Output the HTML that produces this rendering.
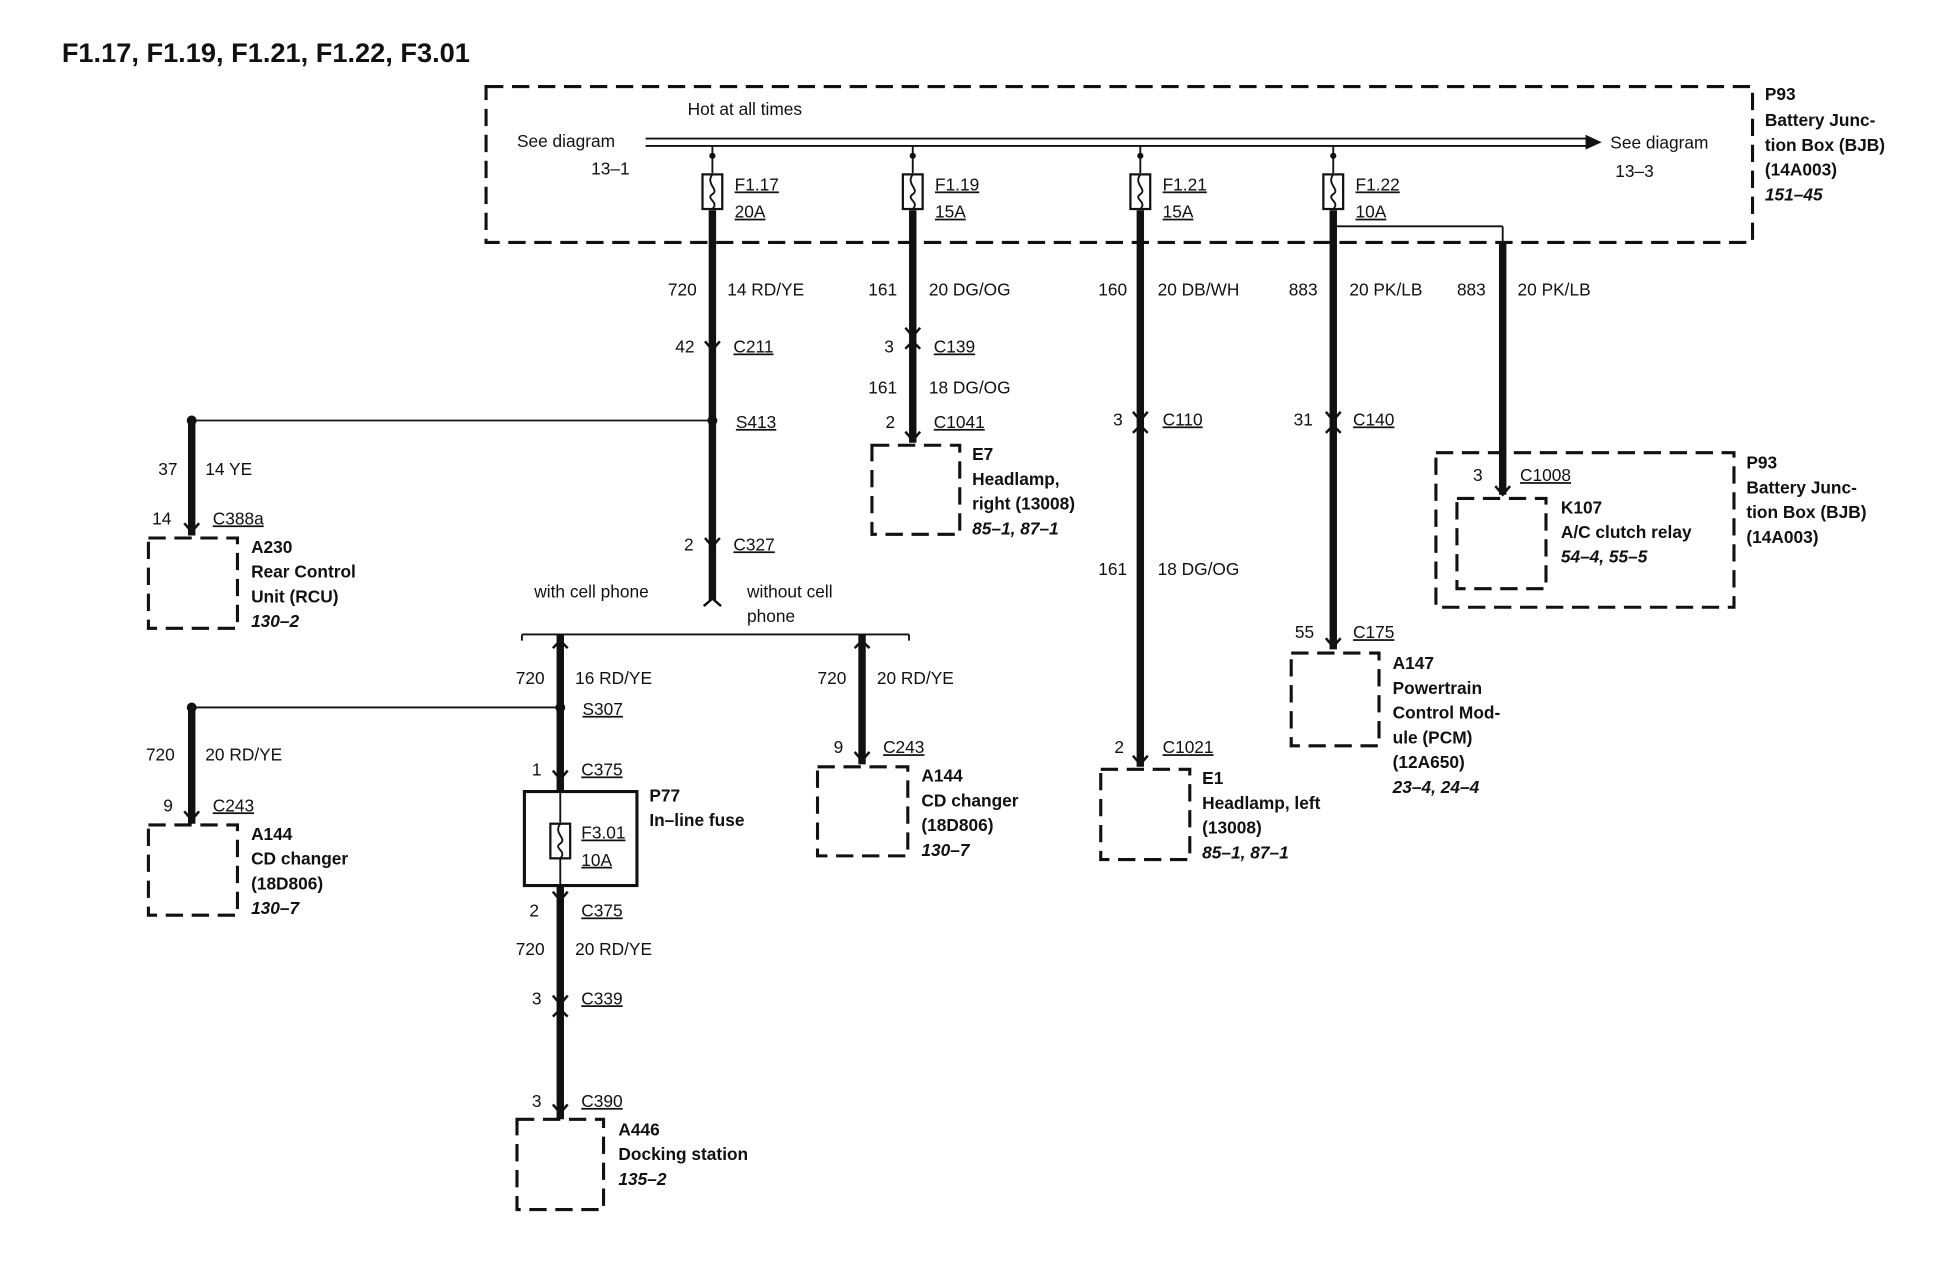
<!DOCTYPE html>
<html><head><meta charset="utf-8"><style>
html,body{margin:0;padding:0;background:#fff;}
svg{display:block;}
text{font-family:"Liberation Sans",Arial,sans-serif;font-size:14px;fill:#111;}
.b{font-weight:bold;}
.i{font-style:italic;font-weight:bold;}
.u{text-decoration:underline;}
.d{fill:none;stroke:#111;stroke-width:2.5;stroke-dasharray:14,7;}
.w{stroke:#111;stroke-width:6;fill:none;}
.t{stroke:#111;stroke-width:1.5;fill:none;}
</style></head><body>
<svg width="1938" height="1264" viewBox="0 0 1566 1022" preserveAspectRatio="xMinYMin meet" xmlns="http://www.w3.org/2000/svg">
<defs>
<g id="cn"><path d="M-6,-7 L0,0 L6,-7" stroke="#111" stroke-width="2" fill="none"/></g>
<g id="fu"><rect x="-8" y="-14" width="16" height="28" fill="#fff" stroke="#111" stroke-width="1.8"/><path d="M0,-14 C-6,-6 6,-2 0,2 C-6,6 6,8 0,14" stroke="#111" stroke-width="1.5" fill="none"/></g>
</defs>
<text x="50" y="50" class="b" style="font-size:22px">F1.17, F1.19, F1.21, F1.22, F3.01</text>

<rect x="393" y="70" width="1024" height="126" class="d"/>
<line x1="522" y1="112" x2="1285" y2="112" class="t"/>
<line x1="522" y1="118" x2="1285" y2="118" class="t"/>
<path d="M1282,109 L1295,115 L1282,121 Z" fill="#111"/>
<text x="556" y="93">Hot at all times</text>
<text x="418" y="119">See diagram</text><text x="478" y="141">13–1</text>
<text x="1302" y="120">See diagram</text><text x="1306" y="143">13–3</text>
<text x="1427" y="81" class="b">P93</text>
<text x="1427" y="102" class="b">Battery Junc-</text>
<text x="1427" y="122" class="b">tion Box (BJB)</text>
<text x="1427" y="142" class="b">(14A003)</text>
<text x="1427" y="162" class="i">151–45</text>

<g>
<line x1="576" y1="118" x2="576" y2="140" class="t"/><circle cx="576" cy="126" r="2.5" fill="#111"/><use href="#fu" x="576" y="155"/>
<text x="594" y="154" class="u">F1.17</text><text x="594" y="176" class="u">20A</text>
<line x1="738" y1="118" x2="738" y2="140" class="t"/><circle cx="738" cy="126" r="2.5" fill="#111"/><use href="#fu" x="738" y="155"/>
<text x="756" y="154" class="u">F1.19</text><text x="756" y="176" class="u">15A</text>
<line x1="922" y1="118" x2="922" y2="140" class="t"/><circle cx="922" cy="126" r="2.5" fill="#111"/><use href="#fu" x="922" y="155"/>
<text x="940" y="154" class="u">F1.21</text><text x="940" y="176" class="u">15A</text>
<line x1="1078" y1="118" x2="1078" y2="140" class="t"/><circle cx="1078" cy="126" r="2.5" fill="#111"/><use href="#fu" x="1078" y="155"/>
<text x="1096" y="154" class="u">F1.22</text><text x="1096" y="176" class="u">10A</text>
</g>

<line x1="576" y1="170" x2="576" y2="485" class="w"/>
<text x="540" y="239">720</text><text x="588" y="239">14 RD/YE</text>
<use href="#cn" x="576" y="283"/><text x="546" y="285">42</text><text x="593" y="285" class="u">C211</text>
<circle cx="576" cy="340" r="4" fill="#111"/><text x="595" y="346" class="u">S413</text>
<line x1="155" y1="340" x2="576" y2="340" class="t"/>
<use href="#cn" x="576" y="442"/><text x="553" y="445">2</text><text x="593" y="445" class="u">C327</text>
<path d="M569,490 L576,484 L583,490" stroke="#111" stroke-width="2" fill="none"/>
<circle cx="155" cy="340" r="4" fill="#111"/>
<line x1="155" y1="340" x2="155" y2="433" class="w"/>
<text x="128" y="384">37</text><text x="166" y="384">14 YE</text>
<use href="#cn" x="155" y="430"/><text x="123" y="424">14</text><text x="172" y="424" class="u">C388a</text>
<rect x="120" y="435" width="72" height="73" class="d"/>
<text x="203" y="447" class="b">A230</text><text x="203" y="467" class="b">Rear Control</text><text x="203" y="487" class="b">Unit (RCU)</text><text x="203" y="507" class="i">130–2</text>

<text x="432" y="483">with cell phone</text>
<text x="604" y="483">without cell</text><text x="604" y="503">phone</text>
<line x1="422" y1="513" x2="735" y2="513" class="t"/>
<path d="M422,513 L422,518 M735,513 L735,518" class="t"/>

<line x1="453" y1="513" x2="453" y2="640" class="w"/>
<path d="M447,524 L453,518 L459,524" stroke="#111" stroke-width="2" fill="none"/>
<text x="417" y="553">720</text><text x="465" y="553">16 RD/YE</text>
<circle cx="453" cy="572" r="4" fill="#111"/><text x="471" y="578" class="u">S307</text>
<line x1="155" y1="572" x2="453" y2="572" class="t"/>
<use href="#cn" x="453" y="630"/><text x="430" y="627">1</text><text x="470" y="627" class="u">C375</text>
<rect x="424" y="640" width="91" height="76" fill="none" stroke="#111" stroke-width="2.5"/>
<line x1="453" y1="640" x2="453" y2="665" class="t"/><use href="#fu" x="453" y="680"/><line x1="453" y1="694" x2="453" y2="716" class="t"/>
<text x="470" y="678" class="u">F3.01</text><text x="470" y="700" class="u">10A</text>
<text x="525" y="648" class="b">P77</text><text x="525" y="668" class="b">In–line fuse</text>
<line x1="453" y1="716" x2="453" y2="905" class="w"/>
<use href="#cn" x="453" y="728"/><text x="428" y="741">2</text><text x="470" y="741" class="u">C375</text>
<text x="417" y="772">720</text><text x="465" y="772">20 RD/YE</text>
<use href="#cn" x="453" y="812"/><text x="430" y="812">3</text><text x="470" y="812" class="u">C339</text>
<path d="M447,822 L453,816 L459,822" stroke="#111" stroke-width="2" fill="none"/>
<use href="#cn" x="453" y="900"/><text x="430" y="895">3</text><text x="470" y="895" class="u">C390</text>
<rect x="418" y="905" width="70" height="73" class="d"/>
<text x="500" y="918" class="b">A446</text><text x="500" y="938" class="b">Docking station</text><text x="500" y="958" class="i">135–2</text>

<circle cx="155" cy="572" r="4" fill="#111"/>
<line x1="155" y1="572" x2="155" y2="666" class="w"/>
<text x="118" y="615">720</text><text x="166" y="615">20 RD/YE</text>
<use href="#cn" x="155" y="663"/><text x="132" y="656">9</text><text x="172" y="656" class="u">C243</text>
<rect x="120" y="667" width="72" height="73" class="d"/>
<text x="203" y="679" class="b">A144</text><text x="203" y="699" class="b">CD changer</text><text x="203" y="719" class="b">(18D806)</text><text x="203" y="739" class="i">130–7</text>

<line x1="697" y1="513" x2="697" y2="618" class="w"/>
<path d="M691,524 L697,518 L703,524" stroke="#111" stroke-width="2" fill="none"/>
<text x="661" y="553">720</text><text x="709" y="553">20 RD/YE</text>
<use href="#cn" x="697" y="615"/><text x="674" y="609">9</text><text x="714" y="609" class="u">C243</text>
<rect x="661" y="620" width="73" height="72" class="d"/>
<text x="745" y="632" class="b">A144</text><text x="745" y="652" class="b">CD changer</text><text x="745" y="672" class="b">(18D806)</text><text x="745" y="692" class="i">130–7</text>

<line x1="738" y1="170" x2="738" y2="358" class="w"/>
<text x="702" y="239">161</text><text x="751" y="239">20 DG/OG</text>
<use href="#cn" x="738" y="272"/><text x="715" y="285">3</text><text x="755" y="285" class="u">C139</text>
<path d="M732,282 L738,276 L744,282" stroke="#111" stroke-width="2" fill="none"/>
<text x="702" y="318">161</text><text x="751" y="318">18 DG/OG</text>
<use href="#cn" x="738" y="356"/><text x="716" y="346">2</text><text x="755" y="346" class="u">C1041</text>
<rect x="705" y="360" width="71" height="72" class="d"/>
<text x="786" y="372" class="b">E7</text><text x="786" y="392" class="b">Headlamp,</text><text x="786" y="412" class="b">right (13008)</text><text x="786" y="432" class="i">85–1, 87–1</text>

<line x1="922" y1="170" x2="922" y2="620" class="w"/>
<text x="888" y="239">160</text><text x="936" y="239">20 DB/WH</text>
<use href="#cn" x="922" y="340"/><text x="900" y="344">3</text><text x="940" y="344" class="u">C110</text>
<path d="M916,350 L922,344 L928,350" stroke="#111" stroke-width="2" fill="none"/>
<text x="888" y="465">161</text><text x="936" y="465">18 DG/OG</text>
<use href="#cn" x="922" y="618"/><text x="901" y="609">2</text><text x="940" y="609" class="u">C1021</text>
<rect x="890" y="622" width="72" height="73" class="d"/>
<text x="972" y="634" class="b">E1</text><text x="972" y="654" class="b">Headlamp, left</text><text x="972" y="674" class="b">(13008)</text><text x="972" y="694" class="i">85–1, 87–1</text>

<line x1="1078" y1="170" x2="1078" y2="525" class="w"/>
<text x="1042" y="239">883</text><text x="1091" y="239">20 PK/LB</text>
<use href="#cn" x="1078" y="340"/><text x="1046" y="344">31</text><text x="1094" y="344" class="u">C140</text>
<path d="M1072,350 L1078,344 L1084,350" stroke="#111" stroke-width="2" fill="none"/>
<use href="#cn" x="1078" y="523"/><text x="1047" y="516">55</text><text x="1094" y="516" class="u">C175</text>
<rect x="1044" y="528" width="71" height="75" class="d"/>
<text x="1126" y="541" class="b">A147</text><text x="1126" y="561" class="b">Powertrain</text><text x="1126" y="581" class="b">Control Mod-</text><text x="1126" y="601" class="b">ule (PCM)</text><text x="1126" y="621" class="b">(12A650)</text><text x="1126" y="641" class="i">23–4, 24–4</text>

<circle cx="1078" cy="183" r="2.5" fill="#111"/>
<line x1="1078" y1="183" x2="1215" y2="183" class="t"/>
<line x1="1215" y1="183" x2="1215" y2="196" class="t"/>
<line x1="1215" y1="196" x2="1215" y2="400" class="w"/>
<text x="1178" y="239">883</text><text x="1227" y="239">20 PK/LB</text>
<rect x="1161" y="366" width="241" height="125" class="d"/>
<use href="#cn" x="1215" y="400"/><text x="1191" y="389">3</text><text x="1229" y="389" class="u">C1008</text>
<rect x="1178" y="403" width="72" height="73" class="d"/>
<text x="1262" y="415" class="b">K107</text><text x="1262" y="435" class="b">A/C clutch relay</text><text x="1262" y="455" class="i">54–4, 55–5</text>
<text x="1412" y="379" class="b">P93</text><text x="1412" y="399" class="b">Battery Junc-</text><text x="1412" y="419" class="b">tion Box (BJB)</text><text x="1412" y="439" class="b">(14A003)</text>
</svg>
</body></html>
